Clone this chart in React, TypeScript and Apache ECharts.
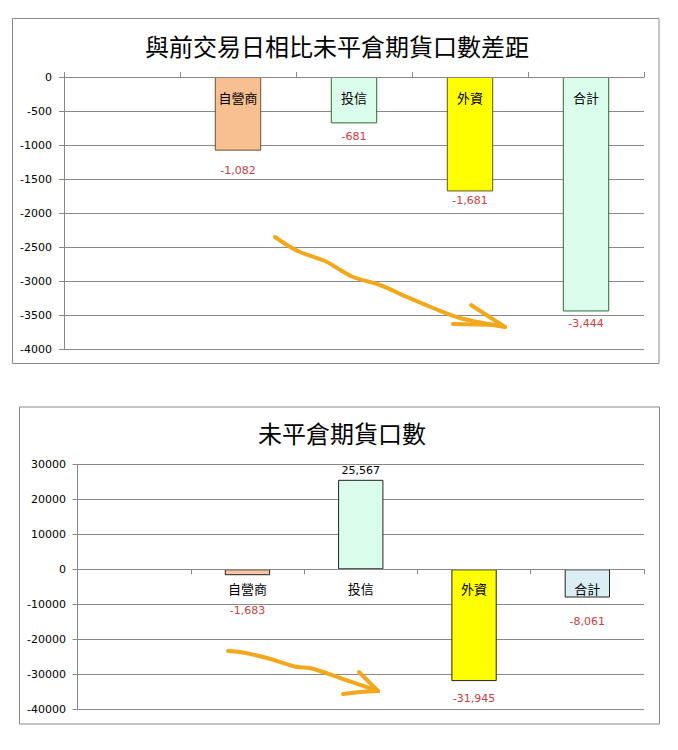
import React, { useEffect, useRef } from "react";
import * as echarts from "echarts";

const categories = ["", "自營商", "投信", "外資", "合計"];
const diffValues = [null, -1082, -681, -1681, -3444];
const oiValues = [null, -1683, 25567, -31945, -8061];
const diffTitle = "與前交易日相比未平倉期貨口數差距";
const oiTitle = "未平倉期貨口數";

const diffFill = ["", "#F8BF90", "#DBFDEB", "#FFFF00", "#DBFDEB"];
const diffBorder = ["", "#6a5436", "#2e6b2e", "#5a5a20", "#2e6b2e"];
const diffLabelDist = [0, 14, 8, 4, 7];
const oiFill = ["", "#F8C6A4", "#DBFDEB", "#FFFF00", "#DAEEF3"];
const oiBorder = ["", "#222222", "#222222", "#222222", "#222222"];
const oiLabelDist = [0, 30, 4, 12, 18];

const fmt = (v: number) => v.toLocaleString("en-US");

function buildData(values: (number | null)[], fill: string[], border: string[], dist: number[]) {
  return values.map((v, i) => {
    if (v == null) return null;
    return {
      value: v,
      itemStyle: { color: fill[i], borderColor: border[i], borderWidth: 1 },
      label: {
        position: v < 0 ? "bottom" : "top",
        distance: dist[i],
        color: v < 0 ? "#C8403F" : "#000000",
      },
    };
  });
}

function categoryLabelData() {
  return categories
    .map((c) => (c ? { name: c, value: [c, 0] } : null))
    .filter((d) => d !== null);
}

const axisGray = "#888888";

function xAxisFor(gridIndex: number, tickInside: boolean) {
  return {
    type: "category",
    gridIndex,
    data: categories,
    position: "bottom",
    z: 10,
    axisLine: { show: true, onZero: true, lineStyle: { color: axisGray, width: 1 } },
    axisTick: { show: true, inside: tickInside, length: 5, interval: 0, lineStyle: { color: axisGray } },
    axisLabel: { show: false },
    splitLine: { show: false },
  };
}

function yAxisFor(gridIndex: number, min: number, max: number, interval: number, margin: number) {
  return {
    type: "value",
    gridIndex,
    min,
    max,
    interval,
    axisLine: { show: true, lineStyle: { color: axisGray, width: 1 } },
    axisTick: { show: true, length: 5, lineStyle: { color: axisGray } },
    axisLabel: {
      margin,
      color: "#000",
      fontSize: 11,
      fontFamily: "DejaVu Sans",
      formatter: (v: number) => String(v),
    },
    splitLine: { show: true, lineStyle: { color: axisGray, width: 1 } },
  };
}

const arrowStyle = {
  stroke: "#F2A81D",
  lineWidth: 4,
  lineCap: "round",
  lineJoin: "round",
  fill: null,
};

function catLabelSeries(gridIndex: number, distance: number) {
  return {
    type: "scatter",
    xAxisIndex: gridIndex,
    yAxisIndex: gridIndex,
    symbolSize: 0,
    silent: true,
    z: 20,
    itemStyle: { opacity: 1, color: "#000" },
    data: categoryLabelData(),
    label: {
      show: true,
      position: "bottom",
      distance,
      formatter: (p: any) => p.name,
      color: "#000",
      opacity: 1,
      fontSize: 13,
      lineHeight: 14,
      fontFamily: "Noto Sans CJK TC",
    },
  };
}

export default function App() {
  const ref = useRef<HTMLDivElement>(null);
  useEffect(() => {
    document.body.style.margin = "0";
    const chart = echarts.init(ref.current!, null, { renderer: "svg" });
    const labelCommon = {
      show: true,
      fontSize: 11,
      fontFamily: "DejaVu Sans",
      formatter: (p: any) => fmt(p.value),
    };
    chart.setOption({
      animation: false,
      backgroundColor: "#ffffff",
      grid: [
        { left: 64, top: 77, width: 580, height: 272.3, containLabel: false },
        { left: 77.5, top: 464.3, width: 566.5, height: 245, containLabel: false },
      ],
      xAxis: [xAxisFor(0, true), xAxisFor(1, false)],
      yAxis: [yAxisFor(0, -4000, 0, 500, 12), yAxisFor(1, -40000, 30000, 10000, 11.5)],
      series: [
        {
          type: "bar",
          xAxisIndex: 0,
          yAxisIndex: 0,
          barWidth: "40%",
          data: buildData(diffValues, diffFill, diffBorder, diffLabelDist),
          label: labelCommon,
          z: 2,
        },
        {
          type: "bar",
          xAxisIndex: 1,
          yAxisIndex: 1,
          barWidth: "40%",
          data: buildData(oiValues, oiFill, oiBorder, oiLabelDist),
          label: labelCommon,
          z: 2,
        },
        catLabelSeries(0, 13),
        catLabelSeries(1, 12),
      ],
      graphic: [
        {
          type: "rect",
          shape: { x: 12.5, y: 18.5, width: 646.5, height: 345 },
          style: { fill: null, stroke: axisGray, lineWidth: 1 },
          silent: true,
        },
        {
          type: "rect",
          shape: { x: 19.5, y: 407, width: 640, height: 317 },
          style: { fill: null, stroke: axisGray, lineWidth: 1 },
          silent: true,
        },
        {
          type: "text",
          x: 337,
          y: 45,
          style: {
            text: diffTitle,
            align: "center",
            verticalAlign: "middle",
            fill: "#000",
            fontSize: 24,
            fontFamily: "Noto Sans CJK TC",
          },
        },
        {
          type: "text",
          x: 342,
          y: 432,
          style: {
            text: oiTitle,
            align: "center",
            verticalAlign: "middle",
            fill: "#000",
            fontSize: 24,
            fontFamily: "Noto Sans CJK TC",
          },
        },
        {
          type: "polyline",
          z: 100,
          shape: {
            points: [[275, 237], [287, 245], [300, 252], [325, 261], [337, 268], [353, 277], [380, 285], [407, 297], [433, 308], [460, 318], [505, 327]],
            smooth: 0.3,
          },
          style: arrowStyle,
        },
        {
          type: "polyline",
          z: 100,
          shape: { points: [[471, 305], [505, 327]] },
          style: arrowStyle,
        },
        {
          type: "polyline",
          z: 100,
          shape: { points: [[453, 324], [500, 325]] },
          style: arrowStyle,
        },
        {
          type: "polyline",
          z: 100,
          shape: {
            points: [[228, 651], [240, 652], [267, 658], [297, 667], [310, 668], [340, 678], [378, 691]],
            smooth: 0.3,
          },
          style: arrowStyle,
        },
        {
          type: "polyline",
          z: 100,
          shape: { points: [[359, 672], [378, 691]] },
          style: arrowStyle,
        },
        {
          type: "polyline",
          z: 100,
          shape: { points: [[343, 694], [360, 692], [378, 691]] },
          style: arrowStyle,
        },
      ],
    });
    return () => chart.dispose();
  }, []);
  return <div ref={ref} style={{ width: 678, height: 750, background: "#fff" }} />;
}
